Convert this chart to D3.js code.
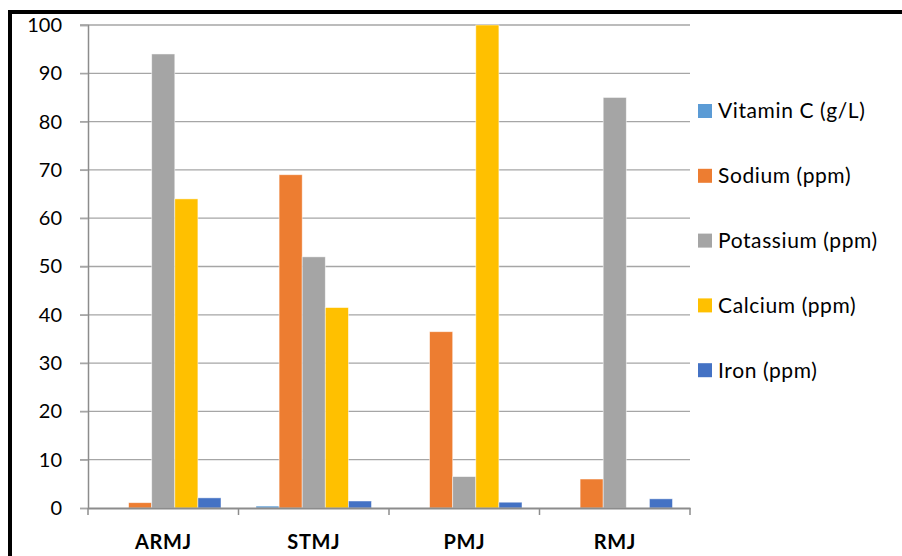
<!DOCTYPE html>
<html>
    <head>
        <meta charset="utf-8">
        <title>Juice composition</title>
        <script src="https://d3js.org/d3.v7.min.js" charset="utf-8"></script>
        <style>
            body { margin: 0; background: white; }
            text { font-family: Lato, "Open Sans", sans-serif; fill: #000; }
        </style>
    </head>
    <body>
        <script>
            var width_SVG = 902;
            var height_SVG = 556;

            var categories = ["ARMJ", "STMJ", "PMJ", "RMJ"];
            var seriesNames = ["Vitamin C (g/L)", "Sodium (ppm)", "Potassium (ppm)", "Calcium (ppm)", "Iron (ppm)"];
            var seriesColors = ["#5B9BD5", "#ED7D31", "#A5A5A5", "#FFC000", "#4472C4"];
            var vitaminC = [0, 0.4, 0, 0];
            var sodium = [1.1, 69, 36.5, 6];
            var potassium = [94, 52, 6.5, 85];
            var calcium = [64, 41.5, 100, 0];
            var iron = [2.1, 1.45, 1.2, 1.9];
            var yTicks = [0, 10, 20, 30, 40, 50, 60, 70, 80, 90, 100];

            var seriesValues = [vitaminC, sodium, potassium, calcium, iron];

            var plot = {left: 88, right: 690, top: 25, bottom: 508};

            var svg = d3.select("body")
                        .append("svg")
                        .attr("width", width_SVG)
                        .attr("height", height_SVG);

            // frame (only left and top edges show in the picture)
            svg.append("rect")
                .attr("x", 10).attr("y", 12)
                .attr("width", 1000).attr("height", 1000)
                .style("fill", "none")
                .style("stroke", "#000")
                .style("stroke-width", 4);

            var x0 = d3.scaleBand()
                        .domain(categories)
                        .range([plot.left, plot.right]);

            var x1 = d3.scaleBand()
                        .domain(seriesNames)
                        .range([17.5, x0.bandwidth() - 17.5]);

            var y = d3.scaleLinear()
                        .domain([0, 100])
                        .range([plot.bottom, plot.top]);

            // grid lines
            svg.append("g")
                .selectAll("line")
                .data(yTicks.slice(1))
                .enter()
                .append("line")
                    .attr("x1", plot.left - 8)
                    .attr("x2", plot.right)
                    .attr("y1", function(d) {return y(d)})
                    .attr("y2", function(d) {return y(d)})
                    .style("stroke", "#a6a6a6")
                    .style("stroke-width", 1.3);

            // y axis
            var yAxis = d3.axisLeft(y).tickValues(yTicks).tickSize(8).tickPadding(18);
            var gy = svg.append("g")
                        .attr("transform", "translate(" + plot.left + ",0)")
                        .call(yAxis);
            gy.select(".domain").style("stroke", "#8c8c8c").style("stroke-width", 1.5);
            gy.selectAll(".tick line").style("stroke", "#a6a6a6").style("stroke-width", 1.3);
            gy.selectAll(".tick text")
                .style("font-size", "20px")
                .style("font-family", "Lato, sans-serif")
                .attr("fill", "#000");

            // bars
            var groups = svg.append("g")
                            .selectAll("g")
                            .data(categories)
                            .enter()
                            .append("g")
                                .attr("transform", function(d) {return "translate(" + x0(d) + ",0)"});

            groups.selectAll("rect")
                .data(function(d, i) {
                    return seriesNames.map(function(s, j) {return {name: s, value: seriesValues[j][i], color: seriesColors[j]}});
                })
                .enter()
                .append("rect")
                    .attr("x", function(d) {return x1(d.name)})
                    .attr("width", x1.bandwidth())
                    .attr("y", function(d) {return y(d.value)})
                    .attr("height", function(d) {return y(0) - y(d.value)})
                    .style("fill", function(d) {return d.color})
                    .style("stroke", "rgba(255,255,255,0.6)")
                    .style("stroke-width", 0.8);

            // x axis
            var xAxis = d3.axisBottom(x0).tickSize(0).tickPadding(27);
            var gx = svg.append("g")
                        .attr("transform", "translate(0," + plot.bottom + ")")
                        .call(xAxis);
            gx.select(".domain").style("stroke", "#8c8c8c").style("stroke-width", 2);
            gx.selectAll(".tick text")
                .style("font-size", "20px")
                .style("font-weight", "bold")
                .style("letter-spacing", "0.6px")
                .style("font-family", "Lato, sans-serif")
                .attr("fill", "#000");

            // category separators
            var bounds = categories.map(function(c) {return x0(c)}).concat([plot.right]);
            gx.selectAll(".sep")
                .data(bounds)
                .enter()
                .append("line")
                    .attr("x1", function(d) {return d})
                    .attr("x2", function(d) {return d})
                    .attr("y1", 0)
                    .attr("y2", 7)
                    .style("stroke", "#8c8c8c")
                    .style("stroke-width", 1.5);

            // legend
            var legend = svg.append("g")
                            .selectAll("g")
                            .data(seriesNames)
                            .enter()
                            .append("g")
                                .attr("transform", function(d, i) {return "translate(698," + (111 + i * 64.8) + ")"});

            legend.append("rect")
                .attr("x", 0).attr("y", -7)
                .attr("width", 14).attr("height", 14)
                .style("fill", function(d, i) {return seriesColors[i]});

            legend.append("text")
                .attr("x", 20)
                .attr("y", 0)
                .attr("dy", "0.35em")
                .style("font-size", "21px")
                .style("letter-spacing", "0.6px")
                .text(function(d) {return d});
        </script>
    </body>
</html>
